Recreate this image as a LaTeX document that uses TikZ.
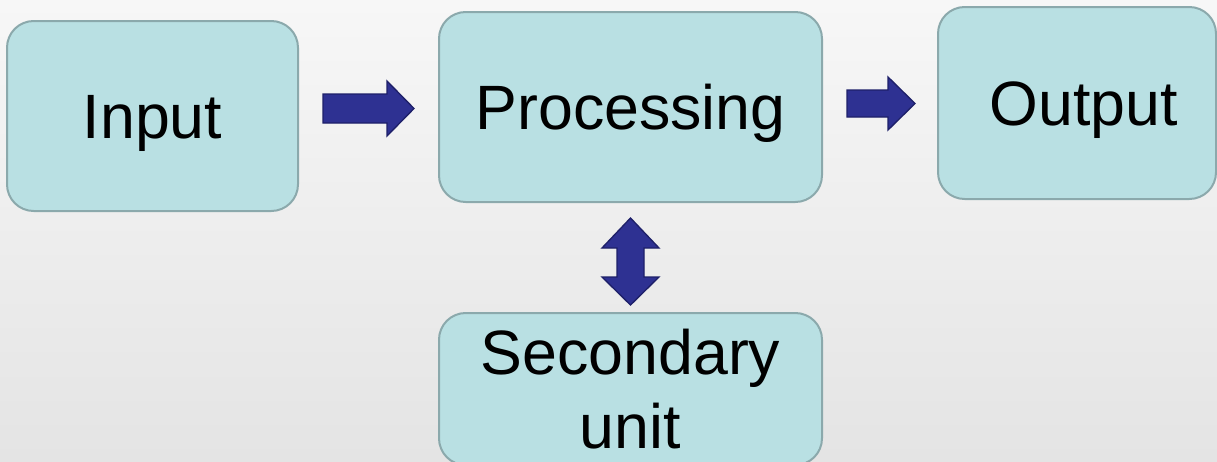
\documentclass[tikz,border=0pt]{standalone}
\usepackage{fontspec}
\setmainfont{Liberation Sans}
\definecolor{boxfill}{HTML}{B9E0E3}
\definecolor{boxline}{HTML}{8BA9AC}
\definecolor{arrfill}{HTML}{2E3192}
\definecolor{arrline}{HTML}{1E2069}
\definecolor{bgtop}{HTML}{F7F7F7}
\definecolor{bgbot}{HTML}{E4E4E4}
\begin{document}
\begin{tikzpicture}[x=0.75pt,y=-0.75pt,
  unitbox/.style={draw=boxline, line width=1.5pt, fill=boxfill, rounded corners=20pt,
    inner sep=0pt, outer sep=0pt, font=\fontsize{47}{56}\selectfont},
  oneline/.style={text height=33.7pt, text depth=0pt},
  blockarrow/.style={fill=arrfill, draw=arrline, line width=1pt, line join=miter}]
\useasboundingbox (0,0) rectangle (1217,461);
\clip (0,0) rectangle (1217,461);
\shade[top color=bgtop, bottom color=bgbot] (0,0) rectangle (1217,461);

\node[unitbox, oneline, minimum width=218.25pt, minimum height=142.5pt] (in) at (152.5,116) {Input};
\node[unitbox, oneline, minimum width=287.25pt, minimum height=142.5pt] (proc) at (630.5,107) {Processing};
\node[unitbox, oneline, minimum width=208.5pt, minimum height=144pt] (out) at (1077,103) {\hspace*{10.5pt}Output};
\node[unitbox, align=center, minimum width=287.25pt, minimum height=114pt] (sec) at (630.5,389) {Secondary\\unit};

% block arrows
\draw[blockarrow] (323,94) -- (387,94) -- (387,81) -- (414,108.5) -- (387,136) -- (387,123) -- (323,123) -- cycle;
\draw[blockarrow] (847,90) -- (888,90) -- (888,77) -- (915,103.5) -- (888,130) -- (888,117) -- (847,117) -- cycle;
\draw[blockarrow] (630.5,218) -- (659,248) -- (644,248) -- (644,277) -- (659,277) -- (630.5,305)
  -- (602,277) -- (617,277) -- (617,248) -- (602,248) -- cycle;
\end{tikzpicture}
\end{document}
